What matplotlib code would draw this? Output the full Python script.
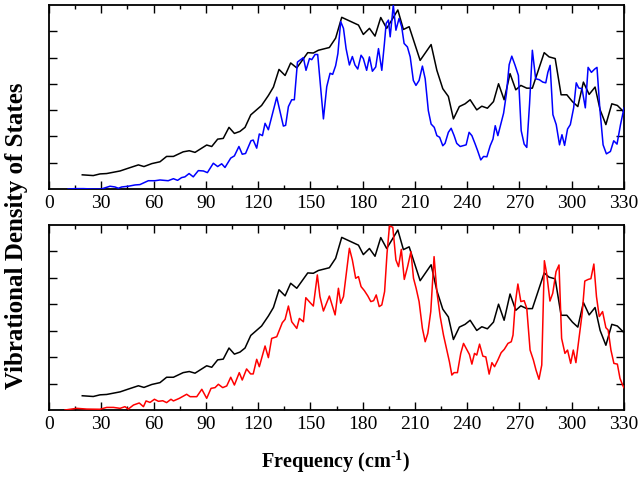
import numpy as np
import matplotlib
matplotlib.use("Agg")
import matplotlib.pyplot as plt
from matplotlib.ticker import MultipleLocator

# ---- data (density in % of panel height) ----
bulk_freq = [19.1, 25.4, 29.3, 33.1, 40.8, 45.5, 51.3, 54.5, 59.0, 63.7, 67.5, 71.4,
             77.0, 80.5, 83.8, 90.5, 93.4, 96.8, 100.0, 103.3, 106.4, 109.6, 112.5,
             115.8, 122.0, 125.9, 128.8, 132.0, 135.5, 138.7, 142.2, 148.5, 151.7,
             154.6, 160.9, 164.5, 168.0, 177.6, 180.4, 183.9, 187.1, 190.4, 193.8,
             196.7, 200.2, 203.4, 206.7, 213.0, 219.3, 222.6, 226.0, 229.2, 232.1,
             235.5, 238.8, 241.7, 245.5, 248.4, 251.6, 255.1, 258.0, 261.2, 264.6,
             267.9, 270.8, 274.2, 277.4, 284.2, 287.0, 290.5, 293.9, 297.2, 300.4,
             303.5, 306.7, 310.0, 313.4, 316.3, 319.6, 323.0, 326.2, 329.7]
bulk_dos = [7.7, 7.3, 8.2, 8.4, 9.8, 11.3, 13.1, 12.2, 13.8, 14.8, 17.7, 17.7,
            20.2, 20.8, 19.9, 23.9, 23.1, 27.1, 27.5, 33.5, 30.2, 31.3, 33.5,
            40.3, 45.4, 50.8, 55.4, 65.0, 61.7, 68.5, 65.8, 74.1, 73.9,
            75.4, 76.9, 82.0, 93.3, 89.1, 84.0, 87.3, 83.1, 93.2, 87.3,
            91.8, 97.3, 86.7, 88.2, 69.9, 78.5, 64.5, 54.5, 50.3, 38.1,
            44.8, 46.3, 48.5, 43.0, 45.0, 43.9, 47.5, 57.2, 48.5, 62.7,
            53.9, 56.3, 54.8, 54.8, 74.1, 71.8, 70.9, 51.2, 51.2, 47.5,
            44.8, 58.1, 51.4, 55.4, 43.0, 35.0, 46.3, 45.4, 42.1]

blue_freq = [11.0, 15.0, 19.7, 25.4, 30.0, 35.0, 37.9, 39.8, 41.7, 45.5, 49.4, 52.2,
             57.0, 60.8, 63.7, 68.4, 71.4, 73.8, 76.1, 78.0, 80.4, 82.8, 85.7, 88.6,
             90.9, 94.3, 96.8, 99.1, 101.0, 104.3, 106.4, 109.0, 110.9, 112.8, 115.9,
             117.2, 119.2, 120.7, 122.5, 124.0, 125.9, 130.7, 134.5, 135.8, 137.4,
             139.3, 140.8, 142.6, 146.0, 147.5, 149.5, 150.8, 152.7, 154.2, 157.5,
             159.4, 161.3, 162.8, 164.5, 165.8, 167.4, 169.0, 170.5, 172.4, 174.1,
             175.6, 177.2, 179.1, 180.4, 182.3, 183.9, 185.6, 187.5, 189.1, 191.0,
             192.5, 193.5, 194.8, 195.8, 197.6, 199.1, 200.9, 202.4, 203.8, 205.7,
             207.3, 209.1, 210.6, 212.4, 214.3, 215.9, 217.7, 219.3, 221.1, 222.6,
             224.2, 226.0, 227.3, 229.2, 230.8, 232.5, 234.0, 236.0, 239.4, 241.1,
             242.7, 244.6, 246.0, 247.8, 249.4, 251.3, 253.2, 254.8, 256.1, 257.6,
             259.4, 260.9, 262.5, 264.1, 265.6, 267.5, 269.4, 271.0, 272.7, 274.2,
             275.8, 277.4, 279.3, 281.4, 283.4, 285.1, 286.3, 287.6, 289.2, 291.1,
             293.0, 294.4, 295.9, 297.6, 299.2, 301.1, 302.6, 304.0, 305.9, 307.8,
             309.4, 311.3, 313.2, 314.5, 316.1, 318.0, 319.9, 322.2, 324.1, 326.0,
             328.0, 330.0]
blue_dos = [0.0, 0.2, 0.2, 0.0, 0.0, 1.5, 1.1, 0.4, 1.1, 1.5, 2.2, 2.4,
            4.5, 4.5, 4.9, 4.5, 5.6, 4.7, 6.2, 6.6, 8.4, 6.6, 10.0, 9.8,
            8.9, 14.0, 12.2, 13.7, 11.7, 16.8, 18.0, 23.1, 18.9, 19.3, 26.2,
            26.6, 22.2, 29.9, 29.0, 35.7, 32.2, 49.9, 34.2, 34.6, 44.8,
            48.5, 48.5, 69.0, 71.4, 64.5, 70.9, 70.3, 73.1, 73.1, 38.1,
            55.6, 62.9, 62.3, 67.0, 73.6, 91.0, 87.3, 76.3, 67.4, 72.0,
            67.4, 65.2, 72.7, 70.9, 64.5, 71.8, 64.0, 66.3, 76.3, 64.5,
            79.1, 90.0, 91.8, 82.7, 100.0, 86.3, 92.7, 88.2, 79.1, 77.2,
            71.8, 59.0, 56.3, 59.0, 66.8, 59.9, 42.6, 35.3, 33.5, 29.0,
            28.1, 23.5, 24.8, 30.8, 33.0, 29.0, 24.8, 23.1, 24.0, 30.8,
            29.0, 24.4, 20.8, 15.8, 17.7, 17.5, 23.5, 27.1, 34.4, 29.0,
            35.7, 41.2, 51.7, 67.6, 72.2, 67.2, 61.7, 31.7, 24.4, 22.6,
            46.3, 75.4, 59.9, 59.4, 58.1, 57.7, 63.4, 67.2, 40.4, 35.0,
            24.0, 29.5, 23.7, 32.6, 35.0, 44.1, 57.7, 54.9, 54.5, 44.1,
            66.1, 63.4, 65.2, 66.1, 44.1, 24.0, 19.1, 20.4, 26.2, 24.4,
            35.0, 44.0]

red_freq = [9.2, 15.9, 21.7, 29.3, 33.1, 37.0, 40.8, 43.6, 45.5, 48.5, 51.8, 54.2,
            55.7, 58.0, 60.5, 62.8, 65.3, 67.5, 70.0, 71.4, 74.8, 79.0, 81.0, 84.8,
            87.7, 90.5, 93.0, 95.3, 97.2, 99.7, 102.0, 104.3, 106.4, 109.2, 110.9,
            113.4, 115.7, 117.2, 119.2, 120.7, 124.0, 125.9, 127.8, 130.7, 133.9,
            135.5, 137.4, 139.3, 142.2, 143.7, 146.0, 147.4, 149.9, 151.7, 154.0,
            155.5, 157.5, 160.9, 164.2, 166.1, 167.4, 169.0, 170.5, 172.4, 174.1,
            176.0, 177.6, 179.1, 181.0, 183.0, 184.7, 186.3, 187.8, 189.5, 191.0,
            192.6, 194.0, 195.4, 197.3, 199.1, 200.6, 202.2, 203.9, 205.8, 207.7,
            209.2, 210.7, 212.4, 214.3, 215.9, 217.4, 219.1, 221.0, 222.6, 224.5,
            226.4, 228.3, 229.8, 231.2, 232.5, 234.4, 236.3, 237.9, 239.4, 241.3,
            242.7, 244.2, 245.5, 247.1, 249.0, 250.7, 252.6, 254.2, 255.7, 257.6,
            259.5, 261.3, 263.4, 265.3, 266.3, 267.6, 269.1, 270.8, 272.7, 274.2,
            276.1, 278.0, 279.5, 281.2, 282.8, 284.3, 285.6, 287.5, 289.1, 291.0,
            292.7, 294.2, 296.1, 297.6, 299.4, 300.9, 302.4, 304.3, 306.0, 307.5,
            309.5, 311.0, 312.7, 314.2, 315.8, 317.7, 319.6, 320.9, 322.5, 324.2,
            326.2, 327.7, 329.2, 330.0]
red_dos = [0.0, 0.9, 0.5, 0.4, 1.4, 1.4, 0.9, 1.8, 0.5, 2.7, 3.8, 1.8,
           4.9, 4.1, 5.8, 4.7, 5.0, 4.0, 5.8, 4.9, 6.3, 8.5, 7.2, 7.2,
           11.2, 6.3, 11.7, 12.1, 13.9, 12.1, 13.0, 17.7, 13.5, 20.2, 16.2,
           22.2, 19.5, 19.5, 27.4, 23.4, 34.6, 28.3, 38.7, 39.6, 47.2,
           49.0, 56.2, 47.7, 44.1, 49.5, 47.7, 60.7, 58.0, 56.2, 73.0,
           61.3, 53.5, 61.6, 51.4, 65.8, 57.7, 61.3, 73.0, 87.4, 81.1,
           71.2, 72.1, 66.7, 64.5, 61.6, 58.6, 59.1, 62.2, 55.9, 56.8,
           64.0, 84.7, 99.5, 98.8, 81.1, 77.5, 86.8, 70.6, 77.5, 85.6,
           71.2, 65.8, 58.6, 44.1, 36.9, 41.4, 53.2, 82.9, 64.0, 50.5,
           40.5, 32.4, 26.1, 18.9, 20.2, 20.2, 30.6, 36.0, 33.3, 30.0,
           24.8, 30.6, 29.7, 35.6, 29.1, 28.7, 19.4, 25.6, 23.4, 27.0,
           31.0, 32.8, 36.0, 36.9, 40.5, 57.7, 68.1, 58.6, 59.1, 55.0,
           32.4, 27.0, 21.6, 16.6, 24.3, 80.7, 73.9, 58.9, 63.1, 74.8,
           78.4, 38.7, 30.6, 32.4, 25.2, 32.4, 25.6, 39.6, 52.3, 69.7,
           70.6, 71.0, 78.9, 61.3, 50.5, 53.2, 44.5, 43.2, 32.4, 25.2,
           24.8, 17.1, 13.5, 12.0]

xticks = list(range(0, 331, 30))

plt.rcParams['font.family'] = ['Liberation Serif', 'DejaVu Serif']
plt.rcParams['mathtext.fontset'] = 'custom'
plt.rcParams['mathtext.rm'] = 'Liberation Serif'
plt.rcParams['mathtext.bf'] = 'Liberation Serif:bold'

fig = plt.figure(figsize=(6.38, 4.79), dpi=100)
ax_top = fig.add_axes([49 / 638, 1 - 189 / 479, 575 / 638, 184 / 479])
ax_bot = fig.add_axes([49 / 638, 1 - 410 / 479, 575 / 638, 185 / 479])

panels = [(ax_top, blue_freq, blue_dos, '#0000ff'),
          (ax_bot, red_freq, red_dos, '#ff0000')]

for ax, f, d, col in panels:
    ax.plot(bulk_freq, bulk_dos, color='black', lw=1.1, zorder=2)
    ax.plot(f, d, color=col, lw=1.1, zorder=3)

    # ---- axes formatting ----
    ax.set_xlim(0, 330)
    ax.set_ylim(0, 100)
    ax.set_xticks(xticks)
    ax.xaxis.set_minor_locator(MultipleLocator(15))
    ax.set_yticks([100 / 7 * k for k in range(1, 7)])
    ax.set_yticklabels([])
    ax.tick_params(which='both', direction='in', top=True, right=True,
                   labelsize=14, pad=4, width=1.0)
    ax.tick_params(which='major', length=6)
    ax.tick_params(which='minor', length=3)
    for s in ax.spines.values():
        s.set_linewidth(1.3)

fig.text(17 / 638, 1 - 236 / 479, 'Vibrational Density of States', rotation=90,
         ha='center', va='center', fontsize=18, fontweight='bold')
fig.text(336 / 638, 1 - 462 / 479, r'Frequency (cm$^{\mathbf{\text{-}1}}$)', ha='center',
         va='center', fontsize=14.5, fontweight='bold')

plt.savefig('out.png', dpi=100)
plt.close()
